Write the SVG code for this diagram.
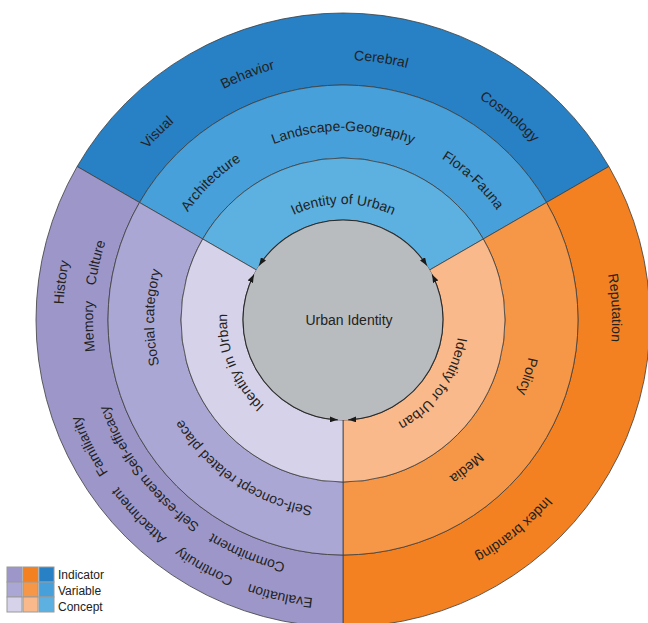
<svg xmlns="http://www.w3.org/2000/svg" xmlns:xlink="http://www.w3.org/1999/xlink" width="648" height="623" viewBox="0 0 648 623">
<style>
.cell{stroke:#3d3d3d;stroke-width:0.8}
.bi{fill:#2880c5}.bv{fill:#47a0d9}.bc{fill:#5db1e1}
.oi{fill:#f38121}.ov{fill:#f69647}.oc{fill:#f9b98b}
.pi{fill:#9d97c9}.pv{fill:#aba7d5}.pc{fill:#d5d2ea}
.lbl{font-family:"Liberation Sans",Arial,sans-serif;font-size:14px;fill:#222;text-anchor:middle}
.leg{font-family:"Liberation Sans",Arial,sans-serif;font-size:12px;fill:#222}
.sq{stroke:#9a9a9a;stroke-width:1}
.conn{fill:none;stroke:#2a2a2a;stroke-width:1.1;marker-start:url(#arr);marker-end:url(#arr)}
</style>
<defs>
<marker id="arr" markerUnits="userSpaceOnUse" markerWidth="8" markerHeight="6" refX="8" refY="3" orient="auto-start-reverse"><path d="M0,0 L8,3 L0,6 z" fill="#1a1a1a"/></marker>
<path id="c116" d="M227 320 A116 116 0 0 1 459 320 A116 116 0 0 1 227 320 A116 116 0 0 1 459 320 A116 116 0 0 1 227 320"/>
<path id="c189" d="M154 320 A189 189 0 0 1 532 320 A189 189 0 0 1 154 320 A189 189 0 0 1 532 320 A189 189 0 0 1 154 320"/>
<path id="c250" d="M93 320 A250 250 0 0 1 593 320 A250 250 0 0 1 93 320 A250 250 0 0 1 593 320 A250 250 0 0 1 93 320"/>
<path id="c260" d="M83 320 A260 260 0 0 1 603 320 A260 260 0 0 1 83 320 A260 260 0 0 1 603 320 A260 260 0 0 1 83 320"/>
<path id="c269" d="M74 320 A269 269 0 0 1 612 320 A269 269 0 0 1 74 320 A269 269 0 0 1 612 320 A269 269 0 0 1 74 320"/>
<path id="c280" d="M63 320 A280 280 0 0 1 623 320 A280 280 0 0 1 63 320 A280 280 0 0 1 623 320 A280 280 0 0 1 63 320"/>
</defs>
<rect width="648" height="623" fill="#ffffff"/>

<g id="blue-indicator">
<path class="cell bi" d="M77.13 166.5 A307 307 0 0 1 608.87 166.5 L546.52 202.5 A235 235 0 0 0 139.48 202.5 Z"/>
<text class="lbl"><textPath href="#c260" xlink:href="#c260" startOffset="205.57">Visual</textPath></text>
<text class="lbl"><textPath href="#c260" xlink:href="#c260" startOffset="311.75">Behavior</textPath></text>
<text class="lbl"><textPath href="#c260" xlink:href="#c260" startOffset="446.08">Cerebral</textPath></text>
<text class="lbl"><textPath href="#c260" xlink:href="#c260" startOffset="586.75">Cosmology</textPath></text>
</g>
<g id="blue-variable">
<path class="cell bv" d="M139.48 202.5 A235 235 0 0 1 546.52 202.5 L483.30 239 A162 162 0 0 0 202.70 239 Z"/>
<text class="lbl"><textPath href="#c189" xlink:href="#c189" startOffset="152.07">Architecture</textPath></text>
<text class="lbl"><textPath href="#c189" xlink:href="#c189" startOffset="296.88">Landscape-Geography</textPath></text>
<text class="lbl"><textPath href="#c189" xlink:href="#c189" startOffset="438.39">Flora-Fauna</textPath></text>
</g>
<g id="blue-concept">
<path class="cell bc" d="M202.70 239 A162 162 0 0 1 483.30 239 L429.60 270 A100 100 0 0 0 256.40 270 Z"/>
<text class="lbl"><textPath href="#c116" xlink:href="#c116" startOffset="182.21">Identity of Urban</textPath></text>
</g>

<g id="orange-indicator">
<path class="cell oi" d="M608.87 166.5 A307 307 0 0 1 343 627 L343 555 A235 235 0 0 0 546.52 202.5 Z"/>
<text class="lbl"><textPath href="#c269" xlink:href="#c269" startOffset="832.41">Reputation</textPath></text>
<text class="lbl"><textPath href="#c269" xlink:href="#c269" startOffset="1083.12">Index branding</textPath></text>
</g>
<g id="orange-variable">
<path class="cell ov" d="M546.52 202.5 A235 235 0 0 1 343 555 L343 482 A162 162 0 0 0 483.30 239 Z"/>
<text class="lbl"><textPath href="#c189" xlink:href="#c189" startOffset="649.51">Policy</textPath></text>
<text class="lbl"><textPath href="#c189" xlink:href="#c189" startOffset="758.69">Media</textPath></text>
</g>
<g id="orange-concept">
<path class="cell oc" d="M483.30 239 A162 162 0 0 1 343 482 L343 420 A100 100 0 0 0 429.60 270 Z"/>
<text class="lbl"><textPath href="#c116" xlink:href="#c116" startOffset="435.28">Identity for Urban</textPath></text>
</g>

<g id="purple-indicator">
<path class="cell pi" d="M343 627 A307 307 0 0 1 77.13 166.5 L139.48 202.5 A235 235 0 0 0 343 555 Z"/>
<text class="lbl"><textPath href="#c280" xlink:href="#c280" startOffset="1795.45">History</textPath></text>
<text class="lbl"><textPath href="#c280" xlink:href="#c280" startOffset="1628.81">Familiarity</textPath></text>
<text class="lbl"><textPath href="#c280" xlink:href="#c280" startOffset="1544.27">Attachment</textPath></text>
<text class="lbl"><textPath href="#c280" xlink:href="#c280" startOffset="1462.17">Continuity</textPath></text>
<text class="lbl"><textPath href="#c280" xlink:href="#c280" startOffset="1381.53">Evaluation</textPath></text>
<text class="lbl"><textPath href="#c250" xlink:href="#c250" startOffset="1627.08">Culture</textPath></text>
<text class="lbl"><textPath href="#c250" xlink:href="#c250" startOffset="1563.81">Memory</textPath></text>
<text class="lbl"><textPath href="#c250" xlink:href="#c250" startOffset="1445.57">Self-efficacy</textPath></text>
<text class="lbl"><textPath href="#c250" xlink:href="#c250" startOffset="1367.46">Self-esteem</textPath></text>
<text class="lbl"><textPath href="#c250" xlink:href="#c250" startOffset="1275.40">Commitment</textPath></text>
</g>
<g id="purple-variable">
<path class="cell pv" d="M343 555 A235 235 0 0 1 139.48 202.5 L202.70 239 A162 162 0 0 0 343 482 Z"/>
<text class="lbl"><textPath href="#c189" xlink:href="#c189" startOffset="1189.5">Social category</textPath></text>
<text class="lbl"><textPath href="#c189" xlink:href="#c189" startOffset="1001.81">Self-concept related place</textPath></text>
</g>
<g id="purple-concept">
<path class="cell pc" d="M343 482 A162 162 0 0 1 202.70 239 L256.40 270 A100 100 0 0 0 343 420 Z"/>
<text class="lbl"><textPath href="#c116" xlink:href="#c116" startOffset="683.30">Identity in Urban</textPath></text>
</g>

<g id="urban-identity">
<circle cx="343" cy="320" r="100" fill="#b9bcbf"/>
<text class="lbl" x="349" y="325">Urban Identity</text>
</g>

<g id="connectors">
<path class="conn" d="M259.13 265.54 A100 100 0 0 1 426.87 265.54"/>
<path class="conn" d="M432.10 274.60 A100 100 0 0 1 348.23 419.86"/>
<path class="conn" d="M337.77 419.86 A100 100 0 0 1 253.90 274.60"/>
</g>

<g id="legend">
<rect class="sq pi" x="7" y="567" width="15" height="15"/>
<rect class="sq oi" x="23" y="567" width="15" height="15"/>
<rect class="sq bi" x="39" y="567" width="15" height="15"/>
<rect class="sq pv" x="7" y="582" width="15" height="15"/>
<rect class="sq ov" x="23" y="582" width="15" height="15"/>
<rect class="sq bv" x="39" y="582" width="15" height="15"/>
<rect class="sq pc" x="7" y="597" width="15" height="15"/>
<rect class="sq oc" x="23" y="597" width="15" height="15"/>
<rect class="sq bc" x="39" y="597" width="15" height="15"/>
<text class="leg" x="58" y="579">Indicator</text>
<text class="leg" x="58" y="595">Variable</text>
<text class="leg" x="58" y="611">Concept</text>
</g>
</svg>
